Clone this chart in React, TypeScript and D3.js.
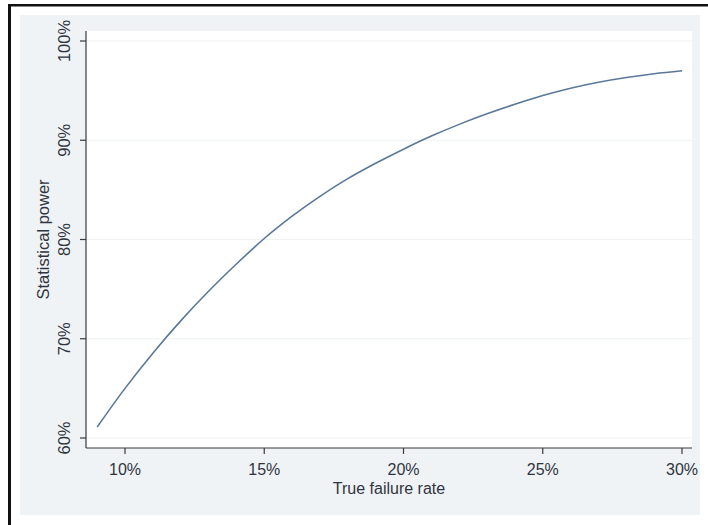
import React from "react";
import * as d3 from "d3";

const failureRate = [9, 10, 11, 12, 13, 14, 15, 16, 17, 18, 19, 20, 21, 22, 23, 24, 25, 26, 27, 28, 29, 30];
const power = [61.1, 65.0, 68.55, 71.8, 74.78, 77.53, 80.1, 82.35, 84.35, 86.13, 87.68, 89.1, 90.42, 91.6, 92.66, 93.62, 94.5, 95.24, 95.84, 96.32, 96.7, 97.0];
const xTicks = [10, 15, 20, 25, 30];
const yTicks = [60, 70, 80, 90, 100];
const xTitle = "True failure rate";
const yTitle = "Statistical power";

export default function App() {
  const W = 708, H = 525;
  const left = 86, right = 692, top = 31, bottom = 448;
  const x = d3.scaleLinear().domain([10, 30]).range([125, 682]);
  const y = d3.scaleLinear().domain([60, 100]).range([438, 41]);
  const pts = failureRate.map((f, i) => [f, power[i]] as [number, number]);
  const line = d3
    .line<[number, number]>()
    .x((d) => x(d[0]))
    .y((d) => y(d[1]))
    .curve(d3.curveMonotoneX);
  const font = "'Liberation Sans', Arial, sans-serif";
  const txt = "#2f3540";
  return (
    <svg
      width={W}
      height={H}
      style={{ position: "absolute", left: 0, top: 0, background: "#fff" }}
      fontFamily={font}
    >
      <rect x={0} y={0} width={W} height={H} fill="#ffffff" />
      {/* outer frame */}
      <rect x={8} y={4} width={3} height={H} fill="#111" />
      <rect x={8} y={4} width={W} height={2.5} fill="#111" />
      {/* graph region */}
      <rect x={20} y={15} width={680} height={500} fill="#eff3f6" />
      {/* plot region */}
      <rect x={left} y={top} width={right - left} height={bottom - top} fill="#ffffff" />
      {/* gridlines */}
      {yTicks.map((t) => (
        <line key={"g" + t} x1={left} x2={right} y1={y(t)} y2={y(t)} stroke="#eef2f4" strokeWidth={1.2} />
      ))}
      {/* curve */}
      <path d={line(pts) || ""} fill="none" stroke="#5a7899" strokeWidth={1.6} />
      {/* axes */}
      <line x1={left} x2={left} y1={top} y2={bottom} stroke="#3a3a3a" strokeWidth={1.2} />
      <line x1={left} x2={right} y1={bottom} y2={bottom} stroke="#3a3a3a" strokeWidth={1.2} />
      {yTicks.map((t) => (
        <g key={"y" + t}>
          <line x1={left - 6} x2={left} y1={y(t)} y2={y(t)} stroke="#3a3a3a" strokeWidth={1.2} />
          <text
            transform={`translate(70,${y(t)}) rotate(-90)`}
            textAnchor="middle"
            fontSize={16.5}
            fill={txt}
          >
            {t + "%"}
          </text>
        </g>
      ))}
      {xTicks.map((t) => (
        <g key={"x" + t}>
          <line x1={x(t)} x2={x(t)} y1={bottom} y2={bottom + 6} stroke="#3a3a3a" strokeWidth={1.2} />
          <text x={x(t)} y={475} textAnchor="middle" fontSize={16} fill={txt}>
            {t + "%"}
          </text>
        </g>
      ))}
      <text x={(left + right) / 2} y={494} textAnchor="middle" fontSize={16} fill={txt}>
        {xTitle}
      </text>
      <text
        transform={`translate(49,${(top + bottom) / 2}) rotate(-90)`}
        textAnchor="middle"
        fontSize={16.5}
        fill={txt}
      >
        {yTitle}
      </text>
    </svg>
  );
}
